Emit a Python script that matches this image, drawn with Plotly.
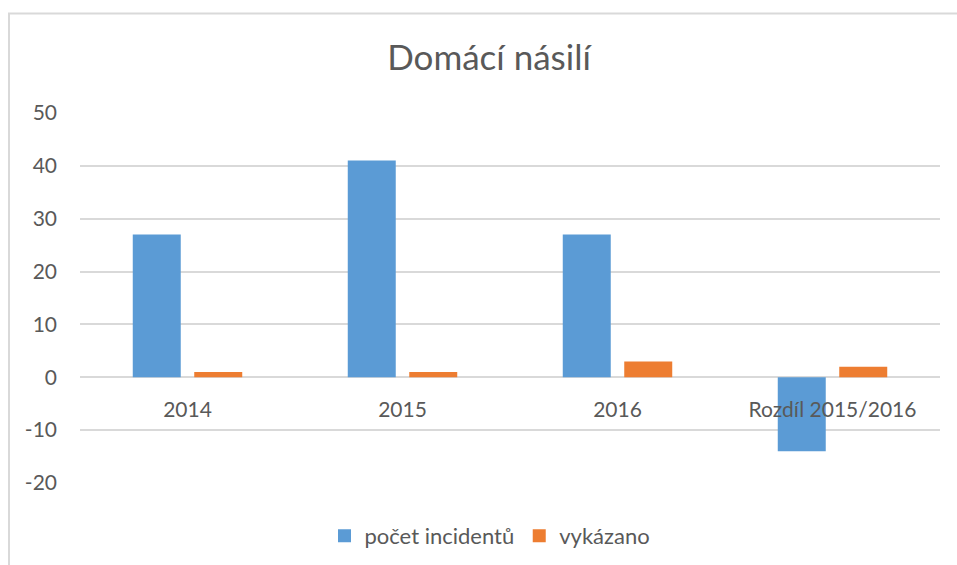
import plotly.graph_objects as go

categories = ["2014", "2015", "2016", "Rozdíl 2015/2016"]
incidenty = [27, 41, 27, -14]
vykazano = [1, 1, 3, 2]
series_names = ["počet incidentů", "vykázano"]
series_colors = ["#5B9BD5", "#ED7D31"]
title_text = "Domácí násilí"
y_ticks = [-20, -10, 0, 10, 20, 30, 40, 50]
y_tick_labels = ["-20", "-10", "0", "10", "20", "30", "40", "50"]

TXT = "#595959"
GRID = "#d9d9d9"
FONT = "Lato, Open Sans, sans-serif"

fig = go.Figure()
for vals, name, col in zip([incidenty, vykazano], series_names, series_colors):
    fig.add_trace(go.Bar(x=categories, y=vals, name=name, showlegend=False,
                         marker=dict(color=col, line=dict(width=0))))
# legend entries with larger square swatches
for name, col in zip(series_names, series_colors):
    fig.add_trace(go.Scatter(x=[None], y=[None], mode="markers", name=name,
                             marker=dict(symbol="square", size=13, color=col)))

W, H = 957, 565
L, R, T, B = 80, 17, 113, 82
ph = H - T - B
pw = W - L - R

fig.update_layout(
    width=W, height=H,
    margin=dict(l=L, r=R, t=T, b=B, autoexpand=False),
    paper_bgcolor="white", plot_bgcolor="white",
    font=dict(family=FONT, color=TXT, size=21),
    barmode="group", bargap=0.428, bargroupgap=0.2195,
    title=dict(text=title_text, x=489 / W, xanchor="center",
               y=1 - 58 / H, yanchor="middle",
               font=dict(size=35, color=TXT, family=FONT)),
    legend=dict(orientation="h", x=(490 - L) / pw, xanchor="center",
                y=(483 - 536) / ph, yanchor="middle",
                font=dict(size=22, color=TXT), itemwidth=30,
                traceorder="normal"),
    xaxis=dict(anchor="free", position=20 / 70, showline=False,
               showgrid=False, ticks="", ticklabelstandoff=18,
               tickfont=dict(size=21, color=TXT)),
    yaxis=dict(range=[-20, 50], tickvals=y_ticks, ticktext=y_tick_labels,
               showgrid=True, gridcolor=GRID,
               gridwidth=1.5, zeroline=True, zerolinecolor=GRID,
               zerolinewidth=1.5, showline=False, ticks="",
               ticklabelstandoff=22, tickfont=dict(size=21, color=TXT)),
    shapes=[dict(type="rect", xref="paper", yref="paper",
                 x0=(9 - L) / pw, x1=1.2, y0=-0.5, y1=(483 - 13.5) / ph,
                 line=dict(color=GRID, width=2), fillcolor="rgba(0,0,0,0)",
                 layer="below")],
)

fig.write_html("out.html", config={"displayModeBar": False},
               post_script="document.body.style.margin='0px';")
